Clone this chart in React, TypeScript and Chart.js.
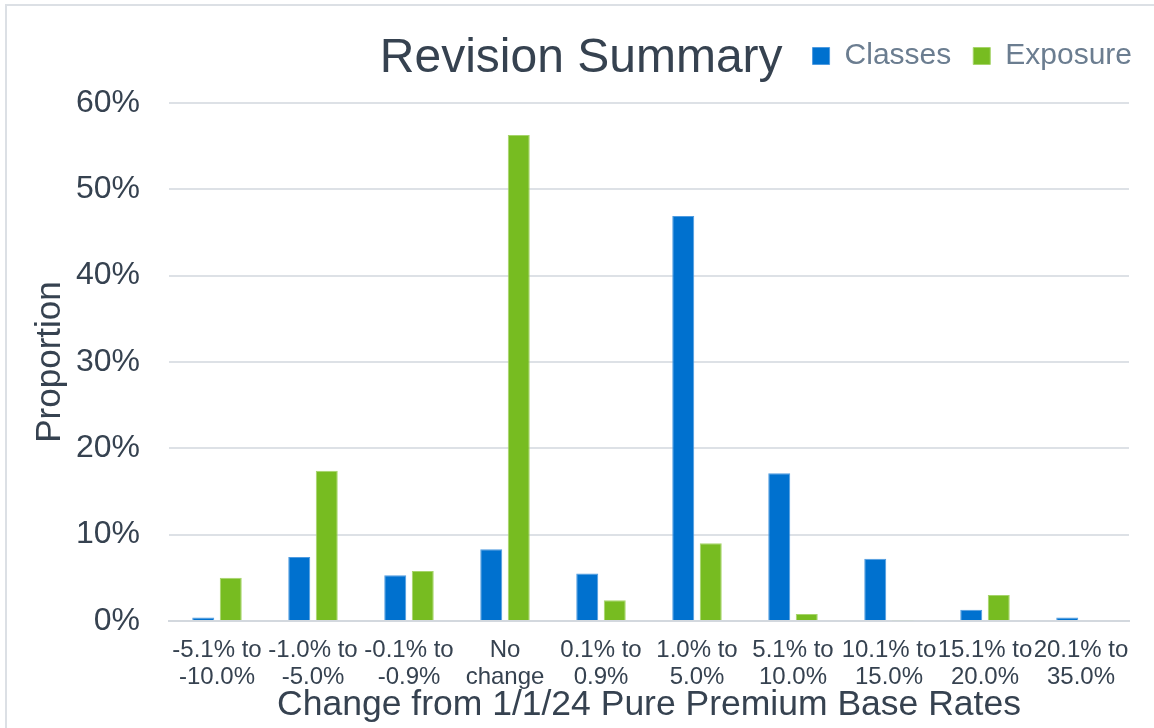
import React, { useEffect, useRef } from "react";
import { Chart, registerables } from "chart.js";

Chart.register(...registerables);

const TITLE = "Revision Summary";
const X_TITLE = "Change from 1/1/24 Pure Premium Base Rates";
const Y_TITLE = "Proportion";

const categories: string[][] = [
  ["-5.1% to", "-10.0%"],
  ["-1.0% to", "-5.0%"],
  ["-0.1% to", "-0.9%"],
  ["No", "change"],
  ["0.1% to", "0.9%"],
  ["1.0% to", "5.0%"],
  ["5.1% to", "10.0%"],
  ["10.1% to", "15.0%"],
  ["15.1% to", "20.0%"],
  ["20.1% to", "35.0%"],
];

const classesValues = [0.4, 7.4, 5.3, 8.3, 5.5, 46.9, 17.1, 7.2, 1.3, 0.4];
const exposureValues = [5.0, 17.4, 5.8, 56.3, 2.4, 9.0, 0.8, 0.1, 3.0, 0.0];

const yMin = 0;
const yMax = 60;
const yStep = 10;

const FONT = '"Liberation Sans", Arial, sans-serif';
const TEXT = "#364250";
const LEGEND_TEXT = "#6B7D90";
const BLUE = "#0071CF";
const BLUE_EDGE = "#4F9BE0";
const GREEN = "#77BC21";
const GREEN_EDGE = "#A6D46A";
const GRID = "#DDE1E6";

const sideTitle = {
  id: "sideTitle",
  afterDraw(chart: any) {
    const hb = chart.legend && chart.legend.legendHitBoxes && chart.legend.legendHitBoxes[0];
    const ctx = chart.ctx;
    ctx.save();
    ctx.font = `48px ${FONT}`;
    ctx.fillStyle = TEXT;
    ctx.textAlign = "right";
    ctx.textBaseline = "alphabetic";
    ctx.fillText(TITLE, (hb ? hb.left : 813) - 30, 72);
    ctx.restore();
  },
};

export default function App() {
  const ref = useRef<HTMLCanvasElement | null>(null);

  useEffect(() => {
    if (!ref.current) return;
    const chart = new Chart(ref.current, {
      type: "bar",
      data: {
        labels: categories,
        datasets: [
          {
            label: "Classes",
            data: classesValues,
            backgroundColor: BLUE,
            borderColor: BLUE_EDGE,
            borderWidth: 1,
            categoryPercentage: 0.573,
            barPercentage: 0.8,
          },
          {
            label: "Exposure",
            data: exposureValues,
            backgroundColor: GREEN,
            borderColor: GREEN_EDGE,
            borderWidth: 1,
            categoryPercentage: 0.573,
            barPercentage: 0.8,
          },
        ],
      },
      options: {
        responsive: false,
        animation: false,
        devicePixelRatio: 1,
        layout: { padding: { top: 19, left: 0, right: 0, bottom: 0 } },
        plugins: {
          tooltip: { enabled: false },
          title: { display: false },
          subtitle: {
            display: true,
            text: "",
            position: "top",
            weight: 100,
            font: { size: 10 },
            padding: { top: 0, bottom: 10 },
          },
          legend: {
            display: true,
            position: "top",
            align: "end",
            weight: 1000,
            labels: {
              boxWidth: 17,
              boxHeight: 17,
              padding: 22,
              color: LEGEND_TEXT,
              font: { family: FONT, size: 30 },
            },
          },
        },
        scales: {
          x: {
            grid: { display: false, drawTicks: false },
            border: { display: true, color: "#D3D8DE", width: 2 },
            ticks: {
              color: TEXT,
              font: { family: FONT, size: 24, lineHeight: 1.125 },
              padding: 16,
              autoSkip: false,
              maxRotation: 0,
              minRotation: 0,
            },
            title: {
              display: true,
              text: X_TITLE,
              color: TEXT,
              font: { family: FONT, size: 35.5, lineHeight: 1.2 },
              padding: { top: 0, bottom: 1 },
            },
            afterFit: (s: any) => {
              s.height = 107;
            },
          },
          y: {
            min: yMin,
            max: yMax,
            grid: { color: GRID, lineWidth: 2, drawTicks: false },
            border: { display: false },
            ticks: {
              stepSize: yStep,
              color: TEXT,
              font: { family: FONT, size: 32 },
              padding: 29,
              callback: (v: any) => `${v}%`,
            },
            title: {
              display: true,
              text: Y_TITLE,
              color: TEXT,
              font: { family: FONT, size: 35, lineHeight: 1.2 },
              padding: { top: 29, bottom: 0 },
            },
            afterFit: (s: any) => {
              s.width = 169;
            },
          },
          yR: {
            type: "linear",
            position: "right",
            display: true,
            grid: { display: false, drawTicks: false },
            border: { display: false },
            ticks: { display: false },
            afterFit: (s: any) => {
              s.width = 25;
            },
          },
        },
      } as any,
      plugins: [sideTitle],
    });
    return () => chart.destroy();
  }, []);

  return (
    <div
      style={{
        position: "fixed",
        left: 0,
        top: 0,
        width: 1154,
        height: 728,
        background: "#fff",
        overflow: "hidden",
      }}
    >
      <div
        style={{
          position: "absolute",
          left: 5,
          top: 4,
          width: 1170,
          height: 750,
          border: "2px solid #DCE0E5",
          boxSizing: "border-box",
        }}
      />
      <canvas
        ref={ref}
        width={1154}
        height={728}
        style={{ position: "absolute", left: 0, top: 0, width: 1154, height: 728 }}
      />
    </div>
  );
}
